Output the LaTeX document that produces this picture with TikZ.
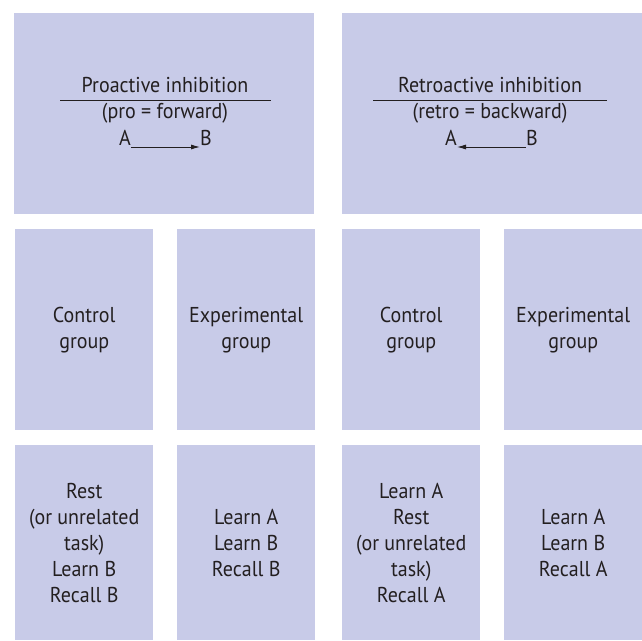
\documentclass[tikz,border=0pt]{standalone}
\usepackage{fontspec}
\setmainfont{PT Sans}[FakeStretch=0.93]
\usetikzlibrary{arrows.meta}
\definecolor{boxfill}{HTML}{C8CBE8}
\definecolor{ink}{HTML}{231F20}
\begin{document}
\begin{tikzpicture}[x=1pt,y=-1pt,
  box/.style={fill=boxfill, draw=none, inner sep=0pt, anchor=north west, align=center,
    text=ink, font=\fontsize{21.5}{26}\selectfont},
  colbox/.style={box, minimum width=138pt},
  midbox/.style={colbox, minimum height=201pt},
  lowbox/.style={colbox, minimum height=195pt},
  topbox/.style={box, minimum width=300pt, minimum height=201pt},
  txt/.style={font=\fontsize{21.5}{26}\selectfont, text=ink, anchor=base, inner sep=0pt},
  rule/.style={draw=ink, line width=1pt},
  arr/.style={draw=ink, line width=0.9pt, -{Latex[length=9pt,width=5pt]}}]
\useasboundingbox (0,0) rectangle (642,640);
\fill[white] (0,0) rectangle (642,640);
% top boxes
\node[topbox] (pbox) at (14,13) {};
\node[topbox] (rbox) at (342,13) {};
% proactive
\node[txt] (ptitle) at (165,92.7) {Proactive inhibition};
\coordinate (pl) at (60,100);
\coordinate (pr) at (271,100);
\draw[rule] (pl) -- (pr);
\node[txt] (psub) at (165,118.5) {(pro = forward)};
\node[txt, anchor=base east] (pa) at (131,145) {A};
\node[txt, anchor=base west] (pb) at (200,145) {B};
\draw[arr] (pa.base east) ++(0,2) coordinate (pas) -- (pas -| pb.base west);
% retroactive
\node[txt] (rtitle) at (490,92.7) {Retroactive inhibition};
\coordinate (rl) at (373,100);
\coordinate (rr) at (607,100);
\draw[rule] (rl) -- (rr);
\node[txt] (rsub) at (490,118.5) {(retro = backward)};
\node[txt, anchor=base east] (ra) at (457,145) {A};
\node[txt, anchor=base west] (rb) at (526,145) {B};
\draw[arr] (rb.base west) ++(0,2) coordinate (rbs) -- (rbs -| ra.base east);
% middle row
\node[midbox] (c1) at (15,229) {Control\\group};
\node[midbox] (e1) at (177,229) {Experimental\\group};
\node[midbox] (c2) at (342,229) {Control\\group};
\node[midbox] (e2) at (504,229) {Experimental\\group};
% bottom row
\node[lowbox] (c1b) at (15,445) {Rest\\(or unrelated\\task)\\Learn B\\Recall B};
\node[lowbox] (e1b) at (177,445) {Learn A\\Learn B\\Recall B};
\node[lowbox] (c2b) at (342,445) {Learn A\\Rest\\(or unrelated\\task)\\Recall A};
\node[lowbox] (e2b) at (504,445) {Learn A\\Learn B\\Recall A};
\end{tikzpicture}
\end{document}
